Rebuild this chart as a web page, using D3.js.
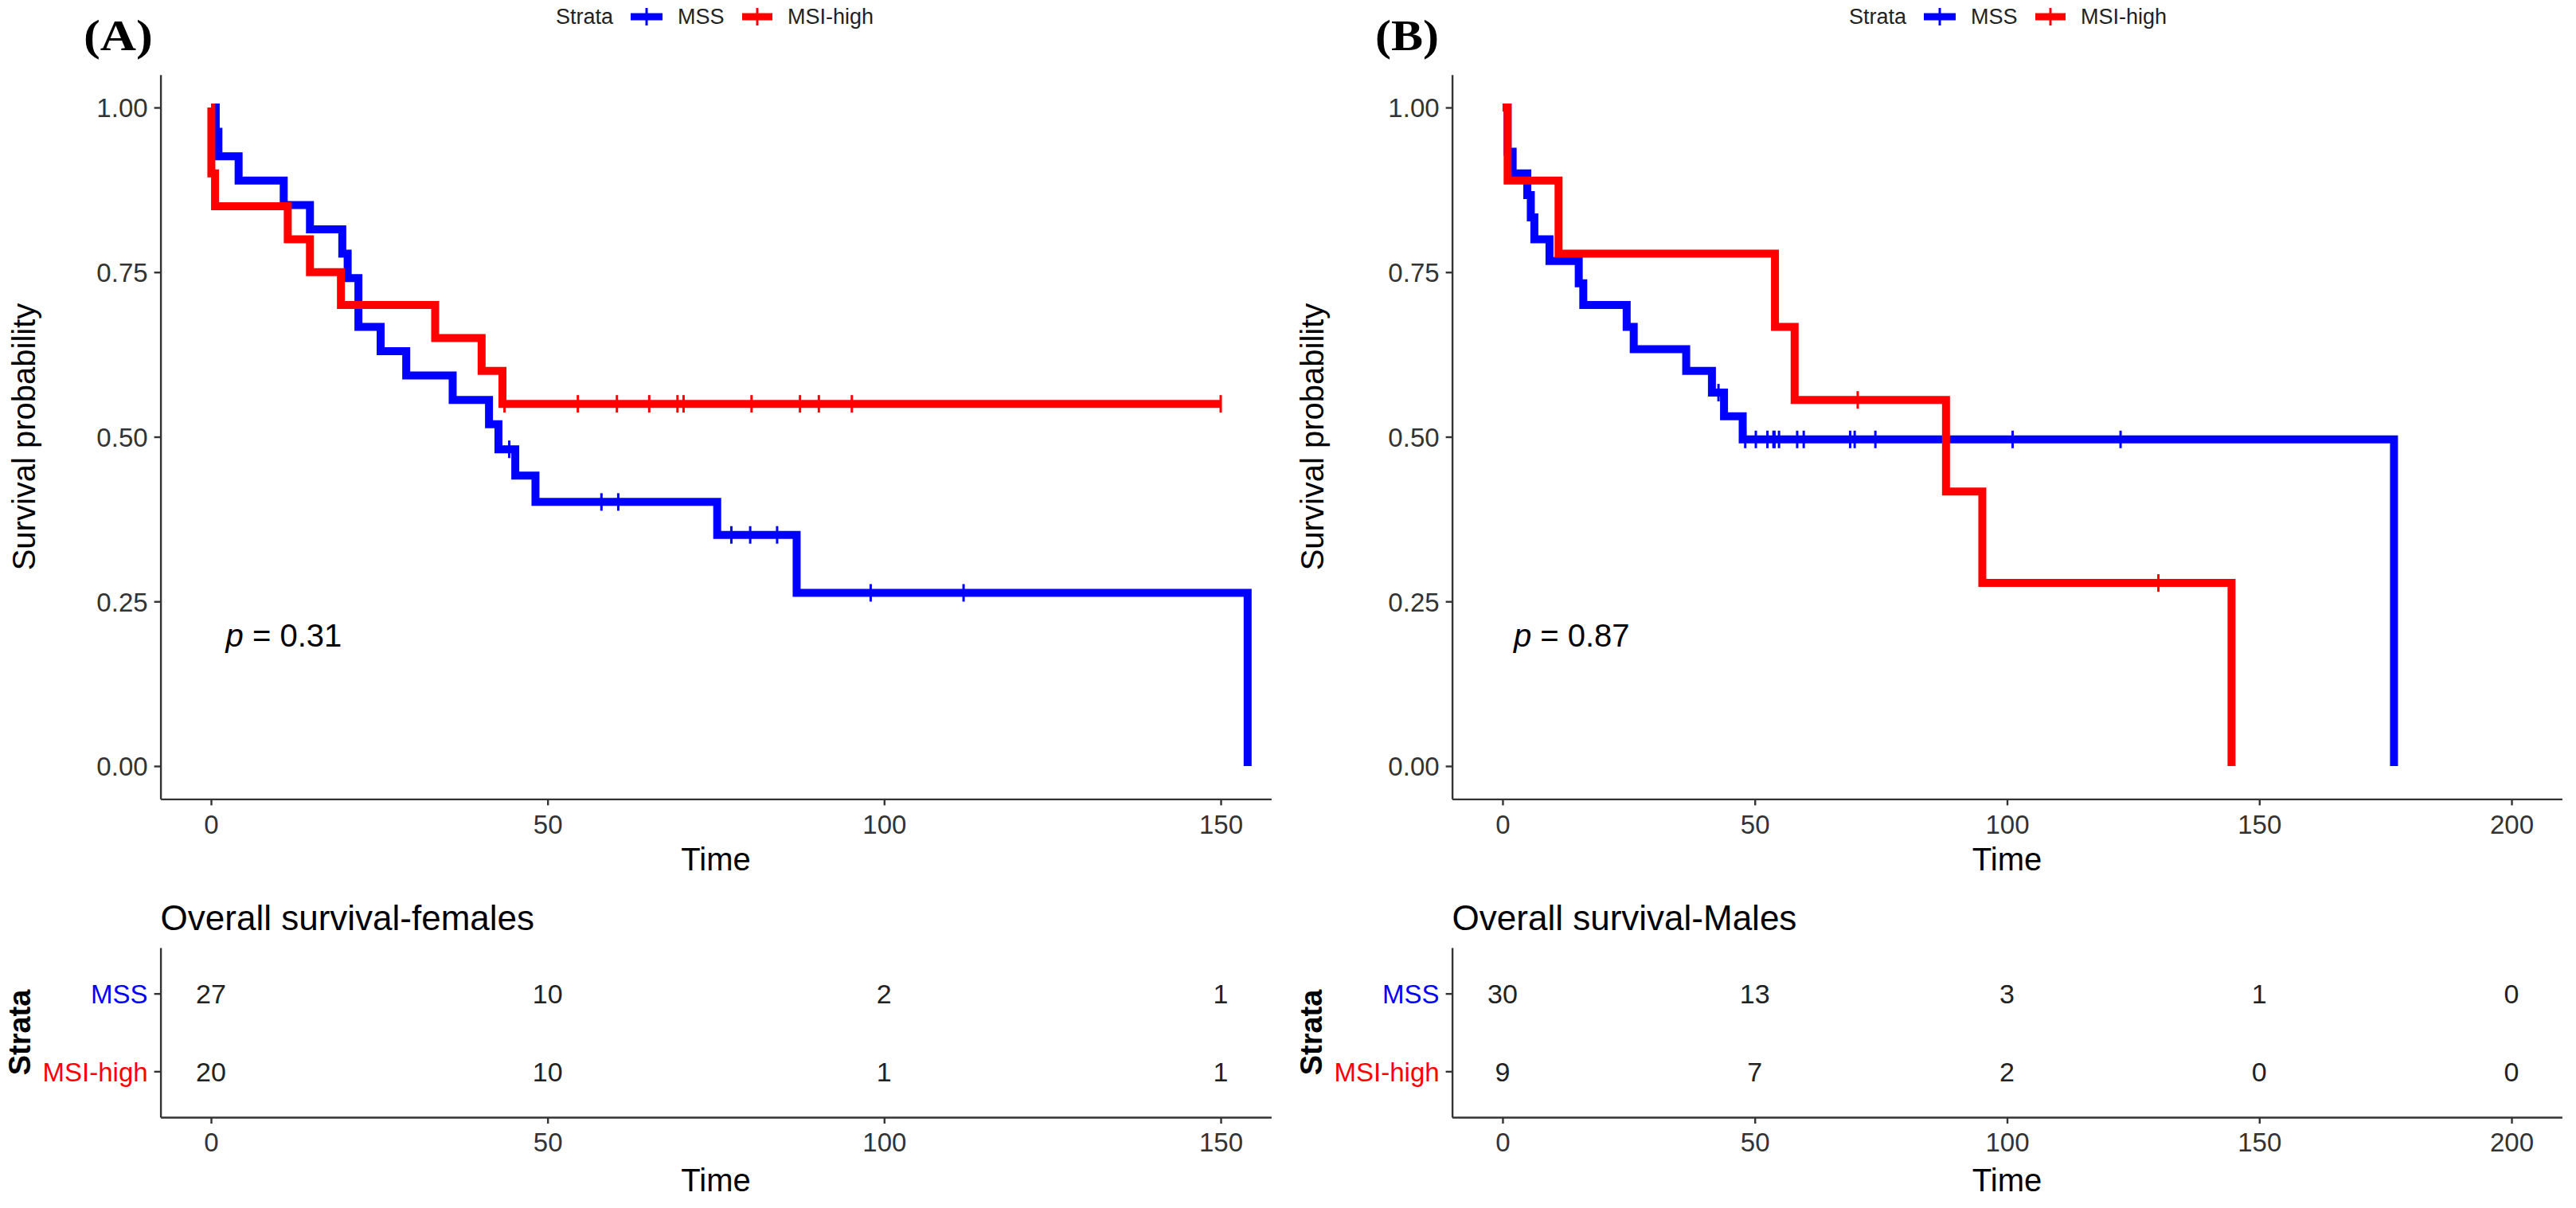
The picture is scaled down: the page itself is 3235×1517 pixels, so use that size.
<!DOCTYPE html>
<html>
<head>
<meta charset="utf-8">
<script src="https://cdn.jsdelivr.net/npm/d3@7"></script>
<style>
  body { margin: 0; background: #fff; }
  svg { display: block; font-family: 'Liberation Sans', Arial, sans-serif; }
</style>
</head>
<body>
<svg width="3235" height="1517"></svg>
<script>
const strata = ['MSS', 'MSI-high'];
const strataColors = ['#0000FF', '#FF0000'];
const survTicks = [0, 0.25, 0.5, 0.75, 1];
const timeTicksA = [0, 50, 100, 150];
const timeTicksB = [0, 50, 100, 150, 200];

// (A) females - step times, survival after each step, censor times
const femMssTime = [0, 0.7, 1.1, 4.1, 10.8, 14.7, 19.5, 20.3, 21.9, 25.2, 29.0, 35.9, 41.3, 42.7, 45.2, 48.2, 75.2, 87.0, 154.0];
const femMssSurv = [1, 0.963, 0.926, 0.889, 0.852, 0.815, 0.778, 0.741, 0.667, 0.630, 0.593, 0.556, 0.519, 0.481, 0.441, 0.401, 0.351, 0.263, 0];
const femMssCens = [44.3, 58.0, 60.5, 77.3, 80.1, 84.1, 98.0, 111.8];

const femMsiTime = [0, 0.05, 0.6, 11.4, 14.7, 19.3, 33.3, 40.2, 43.3, 150.0];
const femMsiSurv = [1, 0.90, 0.85, 0.80, 0.75, 0.70, 0.65, 0.60, 0.55, 0.55];
const femMsiCens = [43.6, 54.5, 60.3, 65.1, 69.3, 70.2, 80.3, 87.5, 90.3, 95.2, 150.0];

// (B) males
const maleMssTime = [0, 1.0, 2.0, 4.9, 5.6, 6.3, 9.3, 15.1, 16.0, 24.6, 26.0, 36.4, 41.5, 43.9, 47.6, 176.7];
const maleMssSurv = [1, 0.933, 0.900, 0.867, 0.833, 0.800, 0.767, 0.733, 0.700, 0.667, 0.633, 0.600, 0.567, 0.531, 0.496, 0];
const maleMssCens = [42.8, 48.1, 50.2, 52.5, 53.7, 53.9, 54.8, 58.4, 59.7, 68.9, 69.8, 73.9, 101.1, 122.5];

const maleMsiTime = [0, 1.0, 11.1, 54.0, 57.9, 87.9, 95.1, 144.5];
const maleMsiSurv = [1, 0.889, 0.778, 0.667, 0.556, 0.417, 0.278, 0];
const maleMsiCens = [70.4, 130.0];

// number at risk
const femRiskMss = [27, 10, 2, 1];
const femRiskMsi = [20, 10, 1, 1];
const maleRiskMss = [30, 13, 3, 1, 0];
const maleRiskMsi = [9, 7, 2, 0, 0];

const svg = d3.select('svg');

const panels = [
    {
        tag: '(A)', tagW: 87, tagX: 105, xDomain: [-7.5, 157.5], xRange: [201.6, 1596.4],
        ticks: timeTicksA, pval: '0.31', legendX: 698, labelX: 30, strataLabelX: 25,
        title: 'Overall survival-females',
        curves: [
            { time: femMssTime, surv: femMssSurv, cens: femMssCens },
            { time: femMsiTime, surv: femMsiSurv, cens: femMsiCens }
        ],
        risk: [femRiskMss, femRiskMsi]
    },
    {
        tag: '(B)', tagW: 80, tagX: 1727, xDomain: [-10, 210], xRange: [1823.6, 3217.4],
        ticks: timeTicksB, pval: '0.87', legendX: 2322, labelX: 1648, strataLabelX: 1647,
        title: 'Overall survival-Males',
        curves: [
            { time: maleMssTime, surv: maleMssSurv, cens: maleMssCens },
            { time: maleMsiTime, surv: maleMsiSurv, cens: maleMsiCens }
        ],
        risk: [maleRiskMss, maleRiskMsi]
    }
];

const yScale = d3.scaleLinear().domain([-0.05, 1.05]).range([1003.35, 93.65]);
const axisColor = '#333';
const tickText = '#333';

function styleAxis(g) {
    g.selectAll('.domain').attr('stroke', axisColor).attr('stroke-width', 2.4);
    g.selectAll('.tick line').attr('stroke', axisColor).attr('stroke-width', 2.4);
    g.selectAll('.tick text').attr('fill', tickText).attr('font-size', 33)
        .attr('font-family', 'Liberation Sans, Arial, sans-serif');
}

panels.forEach(p => {
    const xScale = d3.scaleLinear().domain(p.xDomain).range(p.xRange);
    const left = p.xRange[0];
    const mid = (p.xRange[0] + p.xRange[1]) / 2;

    // panel tag
    svg.append('text')
        .attr('x', p.tagX).attr('y', 63)
        .attr('font-family', 'Liberation Serif, Times New Roman, serif')
        .attr('font-weight', 'bold').attr('font-size', 54)
        .attr('textLength', p.tagW).attr('lengthAdjust', 'spacingAndGlyphs')
        .text(p.tag);

    // legend
    const lg = svg.append('g').attr('transform', `translate(${p.legendX},21)`);
    lg.append('text').attr('x', 0).attr('dy', '0.35em')
        .attr('font-size', 27).attr('fill', '#222').text('Strata');
    const keyPos = [[94, 134, 153], [234, 272, 291]];
    strata.forEach((s, i) => {
        const [k0, k1, tx] = keyPos[i];
        lg.append('line').attr('x1', k0).attr('x2', k1).attr('y1', 0).attr('y2', 0)
            .attr('stroke', strataColors[i]).attr('stroke-width', 9);
        lg.append('line').attr('x1', (k0 + k1) / 2).attr('x2', (k0 + k1) / 2).attr('y1', -11).attr('y2', 11)
            .attr('stroke', strataColors[i]).attr('stroke-width', 3);
        lg.append('text').attr('x', tx).attr('dy', '0.35em')
            .attr('font-size', 27).attr('fill', '#222').text(s);
    });

    // survival axes
    const yAxisG = svg.append('g').attr('transform', `translate(${left},0)`)
        .call(d3.axisLeft(yScale).tickValues(survTicks).tickFormat(d3.format('.2f'))
            .tickSize(8).tickSizeOuter(0).tickPadding(8));
    styleAxis(yAxisG);
    yAxisG.selectAll('.tick text').attr('dy', '0.36em');

    const xAxisG = svg.append('g').attr('transform', `translate(0,${yScale(-0.05)})`)
        .call(d3.axisBottom(xScale).tickValues(p.ticks).tickSize(8).tickSizeOuter(0).tickPadding(12));
    styleAxis(xAxisG);

    svg.append('text')
        .attr('transform', `translate(${p.labelX},${yScale(0.5)}) rotate(-90)`)
        .attr('text-anchor', 'middle').attr('dy', '0.35em')
        .attr('font-size', 40).attr('fill', '#000').text('Survival probability');

    svg.append('text').attr('x', mid).attr('y', 1093)
        .attr('text-anchor', 'middle').attr('font-size', 40).attr('fill', '#000').text('Time');

    // curves
    const line = d3.line()
        .x(d => xScale(d[0]))
        .y(d => yScale(d[1]))
        .curve(d3.curveStepAfter);

    p.curves.forEach((c, i) => {
        const pts = c.time.map((t, j) => [t, c.surv[j]]);
        svg.append('path')
            .attr('d', line(pts))
            .attr('fill', 'none')
            .attr('stroke', strataColors[i])
            .attr('stroke-width', 10)
            .attr('stroke-linejoin', 'miter');

        svg.append('g').selectAll('line')
            .data(c.cens)
            .join('line')
            .attr('x1', d => xScale(d)).attr('x2', d => xScale(d))
            .attr('y1', d => yScale(c.surv[d3.bisectRight(c.time, d) - 1]) - 11)
            .attr('y2', d => yScale(c.surv[d3.bisectRight(c.time, d) - 1]) + 11)
            .attr('stroke', strataColors[i])
            .attr('stroke-width', 3);
    });

    // p-value
    svg.append('text').attr('x', xScale(2.2)).attr('y', yScale(0.2) + 15)
        .attr('font-size', 40).attr('fill', '#000')
        .call(t => {
            t.append('tspan').attr('font-style', 'italic').text('p');
            t.append('tspan').text(' = ' + p.pval);
        });

    // risk table
    svg.append('text').attr('x', left).attr('y', 1168)
        .attr('font-size', 44).attr('fill', '#000').text(p.title);

    const rScale = d3.scalePoint().domain(strata).range([1190, 1403]).padding(0.59);

    const rAxisG = svg.append('g').attr('transform', `translate(${left},0)`)
        .call(d3.axisLeft(rScale).tickSize(8).tickSizeOuter(0).tickPadding(8));
    styleAxis(rAxisG);
    rAxisG.selectAll('.tick text').attr('fill', (d, i) => strataColors[i]).attr('dy', '0.36em');

    const rxAxisG = svg.append('g').attr('transform', 'translate(0,1403)')
        .call(d3.axisBottom(xScale).tickValues(p.ticks).tickSize(8).tickSizeOuter(0).tickPadding(12));
    styleAxis(rxAxisG);

    svg.append('text').attr('x', mid).attr('y', 1496)
        .attr('text-anchor', 'middle').attr('font-size', 40).attr('fill', '#000').text('Time');

    svg.append('text')
        .attr('transform', `translate(${p.strataLabelX},${(1190 + 1403) / 2}) rotate(-90)`)
        .attr('text-anchor', 'middle').attr('dy', '0.35em')
        .attr('font-size', 38).attr('font-weight', 'bold').attr('fill', '#000').text('Strata');

    p.risk.forEach((row, i) => {
        svg.append('g').selectAll('text')
            .data(row)
            .join('text')
            .attr('x', (d, j) => xScale(p.ticks[j]))
            .attr('y', rScale(strata[i]))
            .attr('dy', '0.36em')
            .attr('text-anchor', 'middle')
            .attr('font-size', 34)
            .attr('fill', '#222')
            .text(d => d);
    });
});
</script>
</body>
</html>
